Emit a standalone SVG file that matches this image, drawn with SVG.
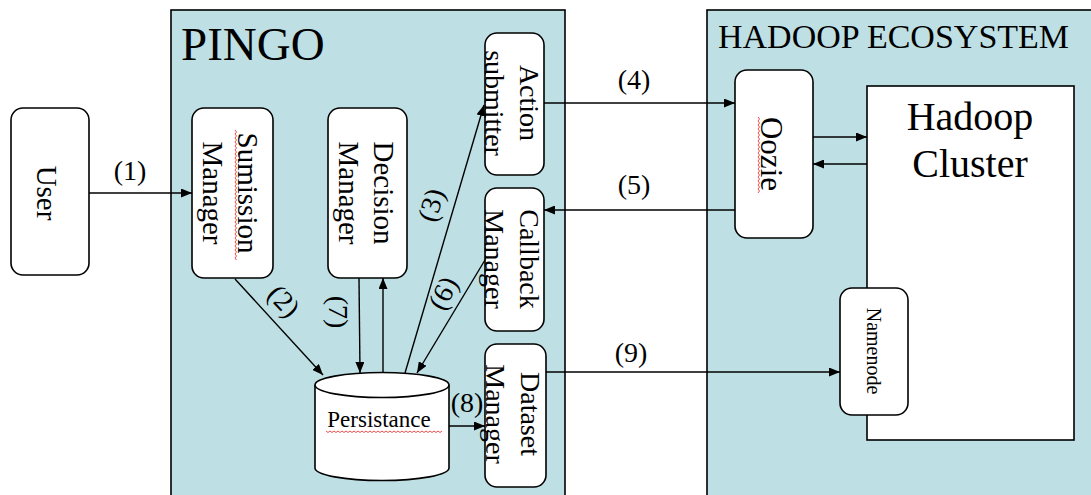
<svg xmlns="http://www.w3.org/2000/svg" width="1091" height="495" viewBox="0 0 1091 495">
<defs>
<marker id="ah" markerUnits="userSpaceOnUse" markerWidth="11" markerHeight="9" refX="11" refY="4.5" orient="auto">
<path d="M0,0 L11,4.5 L0,9 z" fill="#000"/>
</marker>
<style>
.t{font-family:"Liberation Serif","Times New Roman",serif;fill:#000}
.box{fill:#fff;stroke:#000;stroke-width:1.6}
.cont{fill:#bee0e4;stroke:#000;stroke-width:1.6}
.lbl{font-size:29px;text-anchor:middle;dominant-baseline:central}
.lbl2{font-size:28px;text-anchor:middle;dominant-baseline:central}
.num{font-size:28px;text-anchor:middle}
.conn line,.conn path{stroke:#000;stroke-width:1.4;fill:none}
.arr{marker-end:url(#ah)}
.sq{fill:none;stroke:#e83a3a;stroke-width:0.9}
</style>
</defs>
<rect width="1091" height="495" fill="#fff"/>

<g id="pingo">
<rect class="cont" x="171" y="10" width="394" height="500"/>
<text class="t" x="181" y="60" font-size="47">PINGO</text>
</g>
<g id="hadoop-ecosystem">
<rect class="cont" x="707" y="10" width="400" height="500"/>
<text class="t" x="718" y="48" font-size="34">HADOOP ECOSYSTEM</text>
</g>

<g id="hadoop-cluster">
<rect class="box" x="867" y="86" width="207" height="354"/>
<text class="t" x="970" y="130" font-size="40" text-anchor="middle">Hadoop</text>
<text class="t" x="970" y="177" font-size="40" text-anchor="middle">Cluster</text>
</g>

<g id="user">
<rect class="box" x="11" y="108" width="78" height="167" rx="12"/>
<text class="t lbl" transform="translate(47,193) rotate(90)">User</text>
</g>

<g id="submission-manager">
<rect class="box" x="192" y="108" width="81" height="170" rx="12"/>
<text class="t lbl" transform="translate(230,193) rotate(90)"><tspan x="0" y="-17.5">Sumission</tspan><tspan x="0" y="17.5">Manager</tspan></text>
<path class="sq" d="M235,130 l1.5,2 l-1.5,2 l1.5,2 l-1.5,2 l1.5,2 l-1.5,2 l1.5,2 l-1.5,2 l1.5,2 l-1.5,2 l1.5,2 l-1.5,2 l1.5,2 l-1.5,2 l1.5,2 l-1.5,2 l1.5,2 l-1.5,2 l1.5,2 l-1.5,2 l1.5,2 l-1.5,2 l1.5,2 l-1.5,2 l1.5,2 l-1.5,2 l1.5,2 l-1.5,2 l1.5,2 l-1.5,2 l1.5,2 l-1.5,2 l1.5,2 l-1.5,2 l1.5,2 l-1.5,2 l1.5,2 l-1.5,2 l1.5,2 l-1.5,2 l1.5,2 l-1.5,2 l1.5,2 l-1.5,2 l1.5,2 l-1.5,2 l1.5,2 l-1.5,2 l1.5,2 l-1.5,2 l1.5,2 l-1.5,2 l1.5,2 l-1.5,2 l1.5,2 l-1.5,2 l1.5,2 l-1.5,2 l1.5,2 l-1.5,2 l1.5,2 l-1.5,2 l1.5,2 l-1.5,2 l1.5,2"/>
</g>

<g id="decision-manager">
<rect class="box" x="328" y="108" width="79" height="170" rx="12"/>
<text class="t lbl" transform="translate(366,193) rotate(90)"><tspan x="0" y="-17.5">Decision</tspan><tspan x="0" y="17.5">Manager</tspan></text>
</g>

<g id="action-submitter">
<rect class="box" x="485" y="33" width="59" height="142" rx="12"/>
<text class="t lbl2" transform="translate(512,103) rotate(90)"><tspan x="0" y="-17.5">Action</tspan><tspan x="0" y="17.5">submitter</tspan></text>
</g>

<g id="callback-manager">
<rect class="box" x="485" y="188" width="59" height="143" rx="12"/>
<text class="t lbl2" transform="translate(512,259) rotate(90)"><tspan x="0" y="-17.5">Callback</tspan><tspan x="0" y="17.5">Manager</tspan></text>
</g>

<g id="dataset-manager">
<rect class="box" x="485" y="344" width="61" height="143" rx="12"/>
<text class="t lbl2" transform="translate(513,414) rotate(90)"><tspan x="0" y="-17.5">Dataset</tspan><tspan x="0" y="17.5">Manager</tspan></text>
</g>

<g id="persistance">
<path class="box" d="M315,385 L315,468 A67,12.5 0 0 0 449,468 L449,385"/>
<ellipse class="box" cx="382" cy="385" rx="67" ry="12.5"/>
<text class="t" x="379" y="427" font-size="23" text-anchor="middle">Persistance</text>
<path class="sq" d="M326,431 l2,1.5 l2,-1.5 l2,1.5 l2,-1.5 l2,1.5 l2,-1.5 l2,1.5 l2,-1.5 l2,1.5 l2,-1.5 l2,1.5 l2,-1.5 l2,1.5 l2,-1.5 l2,1.5 l2,-1.5 l2,1.5 l2,-1.5 l2,1.5 l2,-1.5 l2,1.5 l2,-1.5 l2,1.5 l2,-1.5 l2,1.5 l2,-1.5 l2,1.5 l2,-1.5 l2,1.5 l2,-1.5 l2,1.5 l2,-1.5 l2,1.5 l2,-1.5 l2,1.5 l2,-1.5 l2,1.5 l2,-1.5 l2,1.5 l2,-1.5 l2,1.5 l2,-1.5 l2,1.5 l2,-1.5 l2,1.5 l2,-1.5 l2,1.5 l2,-1.5 l2,1.5 l2,-1.5 l2,1.5 l2,-1.5 l2,1.5 l2,-1.5 l2,1.5 l2,-1.5 l2,1.5 l2,-1.5"/>
</g>

<g id="oozie">
<rect class="box" x="735" y="70" width="78" height="168" rx="12"/>
<text class="t" transform="translate(771,154) rotate(90)" font-size="31" text-anchor="middle" dominant-baseline="central">Oozie</text>
<path class="sq" d="M758,117 l1.5,2 l-1.5,2 l1.5,2 l-1.5,2 l1.5,2 l-1.5,2 l1.5,2 l-1.5,2 l1.5,2 l-1.5,2 l1.5,2 l-1.5,2 l1.5,2 l-1.5,2 l1.5,2 l-1.5,2 l1.5,2 l-1.5,2 l1.5,2 l-1.5,2 l1.5,2 l-1.5,2 l1.5,2 l-1.5,2 l1.5,2 l-1.5,2 l1.5,2 l-1.5,2 l1.5,2 l-1.5,2 l1.5,2 l-1.5,2 l1.5,2 l-1.5,2 l1.5,2 l-1.5,2 l1.5,2 l-1.5,2"/>
</g>

<g id="namenode">
<rect class="box" x="840" y="288" width="68" height="127" rx="12"/>
<text class="t" transform="translate(874,351) rotate(90)" font-size="20" text-anchor="middle" dominant-baseline="central">Namenode</text>
</g>

<g id="connectors" class="conn">
<line class="arr" x1="89" y1="193" x2="192" y2="193"/>
<line class="arr" x1="235" y1="279" x2="323" y2="375"/>
<line class="arr" x1="405" y1="373" x2="484" y2="105"/>
<line class="arr" x1="544" y1="103" x2="735" y2="103"/>
<line class="arr" x1="735" y1="210" x2="544" y2="210"/>
<line class="arr" x1="485" y1="260" x2="417" y2="373"/>
<line class="arr" x1="359" y1="278" x2="360" y2="373"/>
<line class="arr" x1="383" y1="373" x2="383" y2="278"/>
<line class="arr" x1="449" y1="426" x2="485" y2="426"/>
<line class="arr" x1="546" y1="372" x2="840" y2="372"/>
<line class="arr" x1="813" y1="137" x2="867" y2="137"/>
<line class="arr" x1="867" y1="164" x2="813" y2="164"/>
</g>

<g id="connector-labels" class="t">
<text class="num" x="130" y="180">(1)</text>
<text class="num" text-anchor="middle" dominant-baseline="central" transform="translate(284,301) rotate(47)">(2)</text>
<text class="num" text-anchor="middle" dominant-baseline="central" transform="translate(431,205) rotate(-73)">(3)</text>
<text class="num" x="634" y="89">(4)</text>
<text class="num" x="634" y="194">(5)</text>
<text class="num" text-anchor="middle" dominant-baseline="central" transform="translate(443,293) rotate(-62)">(6)</text>
<text class="num" text-anchor="middle" dominant-baseline="central" transform="translate(338,312) rotate(90)">(7)</text>
<text class="num" x="467" y="412">(8)</text>
<text class="num" x="631" y="362">(9)</text>
</g>
</svg>
